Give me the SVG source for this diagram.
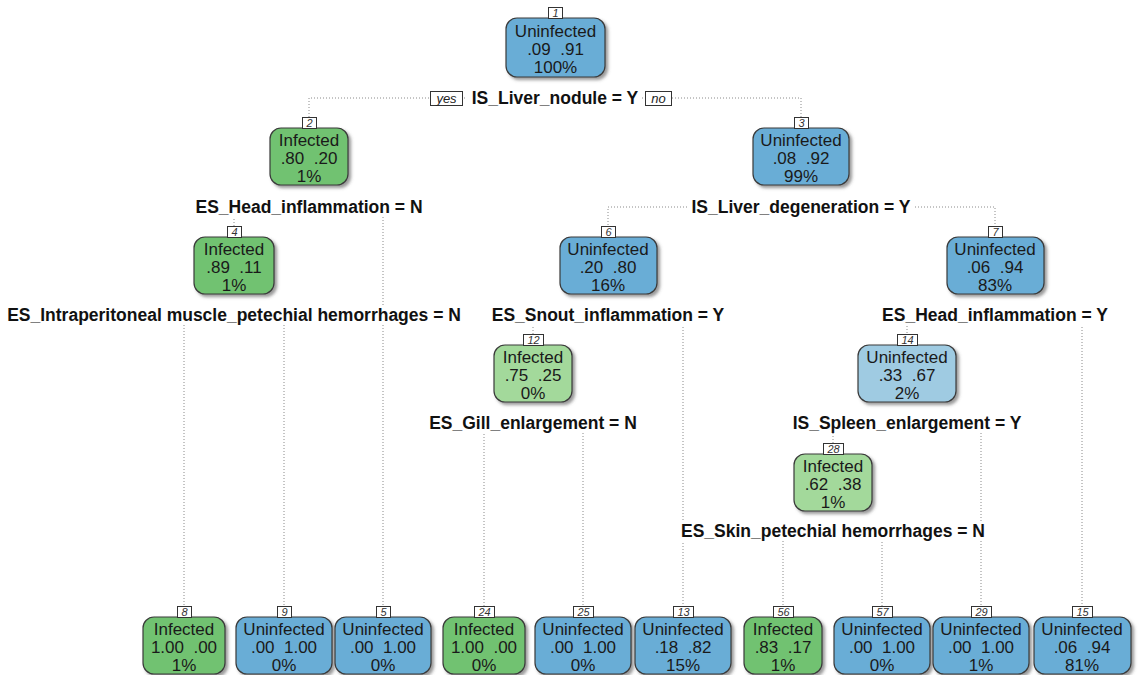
<svg xmlns="http://www.w3.org/2000/svg" width="1140" height="675" viewBox="0 0 1140 675">
<defs>
<filter id="sh" x="-20%" y="-20%" width="150%" height="150%">
<feDropShadow dx="2.5" dy="2.5" stdDeviation="1.5" flood-color="#555" flood-opacity="0.6"/>
</filter>
</defs>
<style>
.box{stroke:#3a3a3a;stroke-width:1.2;filter:url(#sh)}
.blue{fill:#69ADD6}
.green{fill:#71C271}
.lgreen{fill:#A3D99B}
.lblue{fill:#9FCBE2}
.t{font-family:"Liberation Sans",Arial,sans-serif;font-size:17px;fill:#1a1a1a;text-anchor:middle;white-space:pre}
.num{fill:#fff;stroke:#333;stroke-width:1}
.nt{font-family:"Liberation Sans",Arial,sans-serif;font-size:11px;font-style:italic;fill:#333;text-anchor:middle}
.split{font-family:"Liberation Sans",Arial,sans-serif;font-size:17.5px;font-weight:bold;fill:#111;text-anchor:middle}
.bg{fill:#fff}
.con{fill:none;stroke:#8a8a8a;stroke-width:1;stroke-dasharray:1 2}
.yn{fill:#fff;stroke:#333;stroke-width:1}
.ynt{font-family:"Liberation Sans",Arial,sans-serif;font-size:13px;font-style:italic;fill:#222;text-anchor:middle}
</style>
<rect width="1140" height="675" fill="#fff"/>

<g id="connectors">
<path class="con" d="M555 98H309V117"/>
<path class="con" d="M555 98H801V117"/>
<path class="con" d="M309 207H234V226"/>
<path class="con" d="M309 207H383V606"/>
<path class="con" d="M801 207H608V226"/>
<path class="con" d="M801 207H995V226"/>
<path class="con" d="M234 315H184V606"/>
<path class="con" d="M234 315H284V606"/>
<path class="con" d="M608 315H533V334"/>
<path class="con" d="M608 315H683V606"/>
<path class="con" d="M995 315H907V334"/>
<path class="con" d="M995 315H1082V606"/>
<path class="con" d="M533 423H484V606"/>
<path class="con" d="M533 423H583V606"/>
<path class="con" d="M907 423H833V443"/>
<path class="con" d="M907 423H981V606"/>
<path class="con" d="M833 531H783V606"/>
<path class="con" d="M833 531H882V606"/>
</g>

<g id="split-labels">
<rect class="bg" x="467" y="89" width="175" height="19"/>
<text class="split" x="555" y="104">IS_Liver_nodule = Y</text>
<rect class="yn" x="430.5" y="91.5" width="32" height="14"/>
<text class="ynt" x="446.5" y="102.5">yes</text>
<rect class="yn" x="645.5" y="91.5" width="26" height="14"/>
<text class="ynt" x="658.5" y="102.5">no</text>

<rect class="bg" x="190" y="198" width="235" height="19"/>
<text class="split" x="309" y="213">ES_Head_inflammation = N</text>
<rect class="bg" x="687" y="198" width="228" height="19"/>
<text class="split" x="801" y="213">IS_Liver_degeneration = Y</text>

<rect class="bg" x="1" y="306" width="466" height="19"/>
<text class="split" x="234" y="321">ES_Intraperitoneal muscle_petechial hemorrhages = N</text>
<rect class="bg" x="487" y="306" width="241" height="19"/>
<text class="split" x="608" y="321">ES_Snout_inflammation = Y</text>
<rect class="bg" x="877" y="306" width="235" height="19"/>
<text class="split" x="995" y="321">ES_Head_inflammation = Y</text>

<rect class="bg" x="425" y="414" width="217" height="19"/>
<text class="split" x="533" y="429">ES_Gill_enlargement = N</text>
<rect class="bg" x="788" y="414" width="237" height="19"/>
<text class="split" x="907" y="429">IS_Spleen_enlargement = Y</text>

<rect class="bg" x="675" y="522" width="315" height="19"/>
<text class="split" x="833" y="537">ES_Skin_petechial hemorrhages = N</text>
</g>

<g id="node-1">
<rect class="box blue" x="506" y="18" width="99" height="59" rx="11"/>
<text class="t" x="555.5" y="37">Uninfected</text>
<text class="t" x="555.5" y="55">.09  .91</text>
<text class="t" x="555.5" y="73">100%</text>
<rect class="num" x="548.5" y="7.5" width="14" height="11"/>
<text class="nt" x="555.5" y="16.5">1</text>
</g>

<g id="node-2">
<rect class="box green" x="270" y="128" width="78" height="57" rx="11"/>
<text class="t" x="309" y="146">Infected</text>
<text class="t" x="309" y="164">.80  .20</text>
<text class="t" x="309" y="182">1%</text>
<rect class="num" x="302.5" y="117.5" width="14" height="11"/>
<text class="nt" x="309.5" y="126.5">2</text>
</g>

<g id="node-3">
<rect class="box blue" x="753" y="128" width="96" height="57" rx="11"/>
<text class="t" x="801" y="146">Uninfected</text>
<text class="t" x="801" y="164">.08  .92</text>
<text class="t" x="801" y="182">99%</text>
<rect class="num" x="794.5" y="117.5" width="14" height="11"/>
<text class="nt" x="801.5" y="126.5">3</text>
</g>

<g id="node-4">
<rect class="box green" x="194" y="237" width="80" height="57" rx="11"/>
<text class="t" x="234" y="255">Infected</text>
<text class="t" x="234" y="273">.89  .11</text>
<text class="t" x="234" y="291">1%</text>
<rect class="num" x="227.5" y="226.5" width="14" height="11"/>
<text class="nt" x="234.5" y="235.5">4</text>
</g>

<g id="node-6">
<rect class="box blue" x="560" y="237" width="97" height="57" rx="11"/>
<text class="t" x="608" y="255">Uninfected</text>
<text class="t" x="608" y="273">.20  .80</text>
<text class="t" x="608" y="291">16%</text>
<rect class="num" x="601.5" y="226.5" width="14" height="11"/>
<text class="nt" x="608.5" y="235.5">6</text>
</g>

<g id="node-7">
<rect class="box blue" x="947" y="237" width="97" height="57" rx="11"/>
<text class="t" x="995" y="255">Uninfected</text>
<text class="t" x="995" y="273">.06  .94</text>
<text class="t" x="995" y="291">83%</text>
<rect class="num" x="988.5" y="226.5" width="14" height="11"/>
<text class="nt" x="995.5" y="235.5">7</text>
</g>

<g id="node-12">
<rect class="box lgreen" x="494" y="345" width="78" height="57" rx="11"/>
<text class="t" x="533" y="363">Infected</text>
<text class="t" x="533" y="381">.75  .25</text>
<text class="t" x="533" y="399">0%</text>
<rect class="num" x="523.5" y="334.5" width="20" height="11"/>
<text class="nt" x="533.5" y="343.5">12</text>
</g>

<g id="node-14">
<rect class="box lblue" x="858" y="345" width="98" height="57" rx="11"/>
<text class="t" x="907" y="363">Uninfected</text>
<text class="t" x="907" y="381">.33  .67</text>
<text class="t" x="907" y="399">2%</text>
<rect class="num" x="897.5" y="334.5" width="20" height="11"/>
<text class="nt" x="907.5" y="343.5">14</text>
</g>

<g id="node-28">
<rect class="box lgreen" x="794" y="454" width="78" height="57" rx="11"/>
<text class="t" x="833" y="472">Infected</text>
<text class="t" x="833" y="490">.62  .38</text>
<text class="t" x="833" y="508">1%</text>
<rect class="num" x="823.5" y="443.5" width="20" height="11"/>
<text class="nt" x="833.5" y="452.5">28</text>
</g>

<g id="node-8">
<rect class="box green" x="143" y="617" width="82" height="57" rx="11"/>
<text class="t" x="184" y="635">Infected</text>
<text class="t" x="184" y="653">1.00  .00</text>
<text class="t" x="184" y="671">1%</text>
<rect class="num" x="177.5" y="606.5" width="14" height="11"/>
<text class="nt" x="184.5" y="615.5">8</text>
</g>

<g id="node-9">
<rect class="box blue" x="236" y="617" width="96" height="57" rx="11"/>
<text class="t" x="284" y="635">Uninfected</text>
<text class="t" x="284" y="653">.00  1.00</text>
<text class="t" x="284" y="671">0%</text>
<rect class="num" x="277.5" y="606.5" width="14" height="11"/>
<text class="nt" x="284.5" y="615.5">9</text>
</g>

<g id="node-5">
<rect class="box blue" x="335" y="617" width="96" height="57" rx="11"/>
<text class="t" x="383" y="635">Uninfected</text>
<text class="t" x="383" y="653">.00  1.00</text>
<text class="t" x="383" y="671">0%</text>
<rect class="num" x="376.5" y="606.5" width="14" height="11"/>
<text class="nt" x="383.5" y="615.5">5</text>
</g>

<g id="node-24">
<rect class="box green" x="443" y="617" width="82" height="57" rx="11"/>
<text class="t" x="484" y="635">Infected</text>
<text class="t" x="484" y="653">1.00  .00</text>
<text class="t" x="484" y="671">0%</text>
<rect class="num" x="474.5" y="606.5" width="20" height="11"/>
<text class="nt" x="484.5" y="615.5">24</text>
</g>

<g id="node-25">
<rect class="box blue" x="535" y="617" width="96" height="57" rx="11"/>
<text class="t" x="583" y="635">Uninfected</text>
<text class="t" x="583" y="653">.00  1.00</text>
<text class="t" x="583" y="671">0%</text>
<rect class="num" x="573.5" y="606.5" width="20" height="11"/>
<text class="nt" x="583.5" y="615.5">25</text>
</g>

<g id="node-13">
<rect class="box blue" x="635" y="617" width="96" height="57" rx="11"/>
<text class="t" x="683" y="635">Uninfected</text>
<text class="t" x="683" y="653">.18  .82</text>
<text class="t" x="683" y="671">15%</text>
<rect class="num" x="673.5" y="606.5" width="20" height="11"/>
<text class="nt" x="683.5" y="615.5">13</text>
</g>

<g id="node-56">
<rect class="box green" x="744" y="617" width="78" height="57" rx="11"/>
<text class="t" x="783" y="635">Infected</text>
<text class="t" x="783" y="653">.83  .17</text>
<text class="t" x="783" y="671">1%</text>
<rect class="num" x="773.5" y="606.5" width="20" height="11"/>
<text class="nt" x="783.5" y="615.5">56</text>
</g>

<g id="node-57">
<rect class="box blue" x="834" y="617" width="96" height="57" rx="11"/>
<text class="t" x="882" y="635">Uninfected</text>
<text class="t" x="882" y="653">.00  1.00</text>
<text class="t" x="882" y="671">0%</text>
<rect class="num" x="872.5" y="606.5" width="20" height="11"/>
<text class="nt" x="882.5" y="615.5">57</text>
</g>

<g id="node-29">
<rect class="box blue" x="933" y="617" width="96" height="57" rx="11"/>
<text class="t" x="981" y="635">Uninfected</text>
<text class="t" x="981" y="653">.00  1.00</text>
<text class="t" x="981" y="671">1%</text>
<rect class="num" x="971.5" y="606.5" width="20" height="11"/>
<text class="nt" x="981.5" y="615.5">29</text>
</g>

<g id="node-15">
<rect class="box blue" x="1034" y="617" width="97" height="57" rx="11"/>
<text class="t" x="1082" y="635">Uninfected</text>
<text class="t" x="1082" y="653">.06  .94</text>
<text class="t" x="1082" y="671">81%</text>
<rect class="num" x="1072.5" y="606.5" width="20" height="11"/>
<text class="nt" x="1082.5" y="615.5">15</text>
</g>
</svg>
